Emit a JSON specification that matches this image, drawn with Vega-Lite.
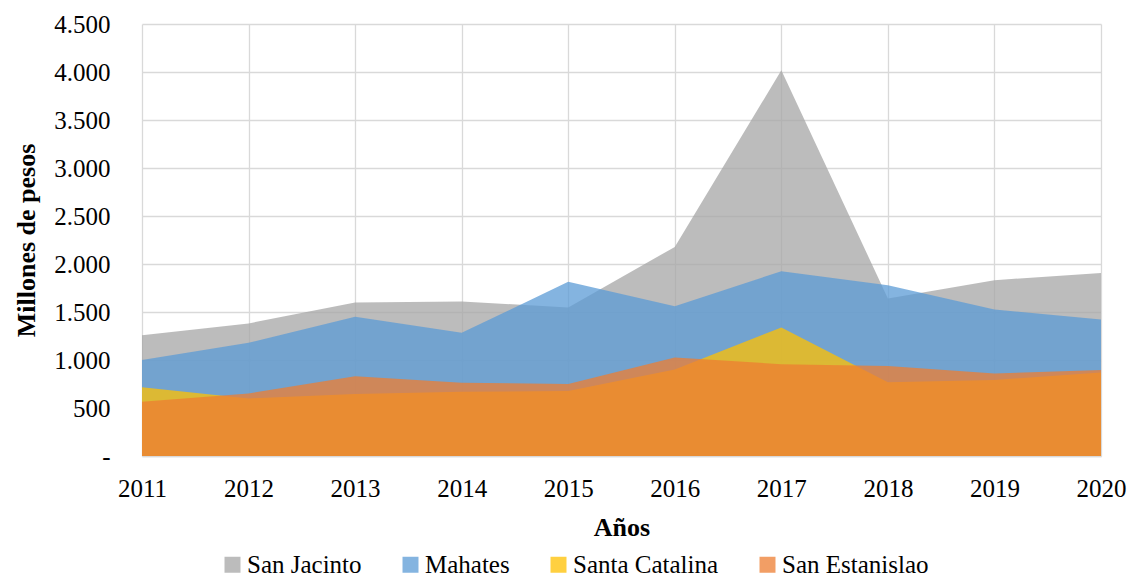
{
  "$schema": "https://vega.github.io/schema/vega-lite/v6.json",
  "width": 959,
  "height": 432,
  "autosize": {"type": "none"},
  "padding": {"left": 142, "top": 24, "right": 29, "bottom": 122},
  "background": "white",
  "config": {
    "font": "Liberation Serif, Times New Roman, serif",
    "view": {"stroke": null},
    "text": {"font": "Liberation Serif, Times New Roman, serif"},
    "axis": {
      "labelFont": "Liberation Serif, Times New Roman, serif",
      "titleFont": "Liberation Serif, Times New Roman, serif",
      "labelFontSize": 25,
      "titleFontSize": 26,
      "labelColor": "#000000",
      "titleColor": "#000000",
      "gridColor": "#D9D9D9",
      "gridWidth": 1.3,
      "ticks": false
    },
    "legend": {
      "labelFont": "Liberation Serif, Times New Roman, serif",
      "titleFont": "Liberation Serif, Times New Roman, serif",
      "labelFontSize": 25,
      "labelColor": "#000000",
      "symbolOpacity": 0.75
    }
  },
  "data": {
    "values": [
      {"year": 2011, "municipio": "San Jacinto", "valor": 1259},
      {"year": 2012, "municipio": "San Jacinto", "valor": 1381},
      {"year": 2013, "municipio": "San Jacinto", "valor": 1600},
      {"year": 2014, "municipio": "San Jacinto", "valor": 1610},
      {"year": 2015, "municipio": "San Jacinto", "valor": 1547},
      {"year": 2016, "municipio": "San Jacinto", "valor": 2178},
      {"year": 2017, "municipio": "San Jacinto", "valor": 4017},
      {"year": 2018, "municipio": "San Jacinto", "valor": 1641},
      {"year": 2019, "municipio": "San Jacinto", "valor": 1831},
      {"year": 2020, "municipio": "San Jacinto", "valor": 1907},
      {"year": 2011, "municipio": "Mahates", "valor": 999},
      {"year": 2012, "municipio": "Mahates", "valor": 1179},
      {"year": 2013, "municipio": "Mahates", "valor": 1450},
      {"year": 2014, "municipio": "Mahates", "valor": 1283},
      {"year": 2015, "municipio": "Mahates", "valor": 1814},
      {"year": 2016, "municipio": "Mahates", "valor": 1561},
      {"year": 2017, "municipio": "Mahates", "valor": 1925},
      {"year": 2018, "municipio": "Mahates", "valor": 1779},
      {"year": 2019, "municipio": "Mahates", "valor": 1526},
      {"year": 2020, "municipio": "Mahates", "valor": 1422},
      {"year": 2011, "municipio": "Santa Catalina", "valor": 715},
      {"year": 2012, "municipio": "Santa Catalina", "valor": 600},
      {"year": 2013, "municipio": "Santa Catalina", "valor": 645},
      {"year": 2014, "municipio": "Santa Catalina", "valor": 669},
      {"year": 2015, "municipio": "Santa Catalina", "valor": 676},
      {"year": 2016, "municipio": "Santa Catalina", "valor": 902},
      {"year": 2017, "municipio": "Santa Catalina", "valor": 1339},
      {"year": 2018, "municipio": "Santa Catalina", "valor": 767},
      {"year": 2019, "municipio": "Santa Catalina", "valor": 791},
      {"year": 2020, "municipio": "Santa Catalina", "valor": 871},
      {"year": 2011, "municipio": "San Estanislao", "valor": 565},
      {"year": 2012, "municipio": "San Estanislao", "valor": 652},
      {"year": 2013, "municipio": "San Estanislao", "valor": 832},
      {"year": 2014, "municipio": "San Estanislao", "valor": 763},
      {"year": 2015, "municipio": "San Estanislao", "valor": 749},
      {"year": 2016, "municipio": "San Estanislao", "valor": 1027},
      {"year": 2017, "municipio": "San Estanislao", "valor": 957},
      {"year": 2018, "municipio": "San Estanislao", "valor": 937},
      {"year": 2019, "municipio": "San Estanislao", "valor": 860},
      {"year": 2020, "municipio": "San Estanislao", "valor": 895}
    ]
  },
  "mark": {"type": "area", "opacity": 0.75, "interpolate": "linear"},
  "encoding": {
    "x": {
      "field": "year",
      "type": "quantitative",
      "scale": {"domain": [2011, 2020], "nice": false, "zero": false},
      "axis": {
        "values": [2011, 2012, 2013, 2014, 2015, 2016, 2017, 2018, 2019, 2020],
        "format": "d",
        "title": "Años",
        "titleFontWeight": "bold",
        "labelPadding": 20,
        "titlePadding": 13,
        "domainColor": "#D9D9D9",
        "domainWidth": 1.3,
        "labelFlush": false
      }
    },
    "y": {
      "field": "valor",
      "type": "quantitative",
      "stack": null,
      "scale": {"domain": [0, 4500], "nice": false},
      "axis": {
        "values": [0, 500, 1000, 1500, 2000, 2500, 3000, 3500, 4000, 4500],
        "labelExpr": "datum.value == 0 ? '-\u00a0\u00a0\u00a0' : replace(format(datum.value, ','), ',', '.')",
        "title": "Millones de pesos",
        "titleFontWeight": "bold",
        "labelPadding": 32,
        "titlePadding": 14,
        "domain": false
      }
    },
    "color": {
      "field": "municipio",
      "type": "nominal",
      "scale": {
        "domain": ["San Jacinto", "Mahates", "Santa Catalina", "San Estanislao"],
        "range": ["#A5A5A5", "#5B9BD5", "#FFC000", "#ED7D31"]
      },
      "legend": {
        "title": null,
        "orient": "none",
        "direction": "horizontal",
        "legendX": 78,
        "legendY": 528,
        "symbolType": "square",
        "symbolSize": 256,
        "symbolStrokeWidth": 0,
        "labelOffset": 2,
        "columnPadding": 36
      }
    }
  }
}
